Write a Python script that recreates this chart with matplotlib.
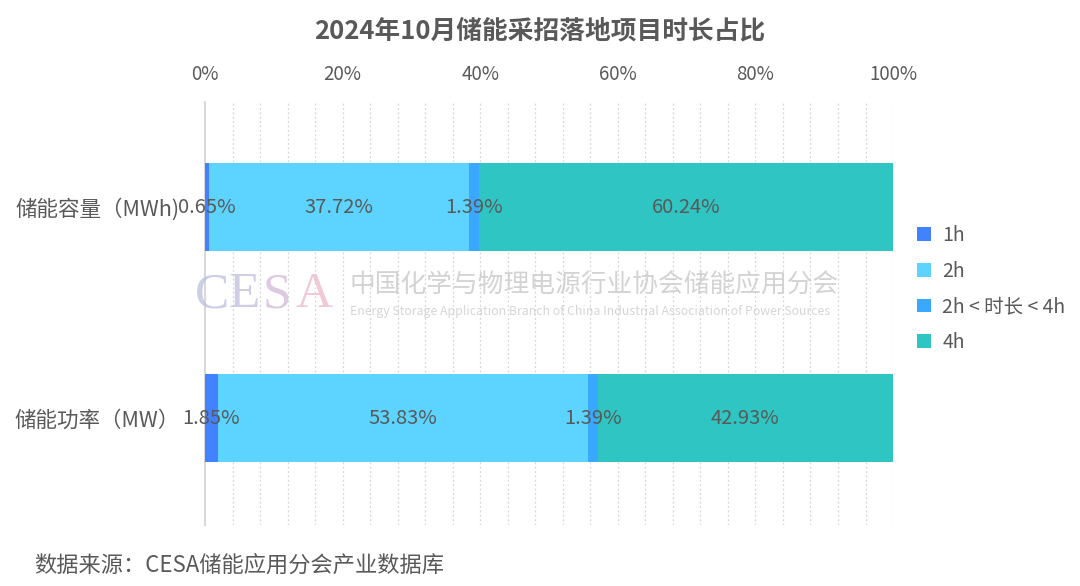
import matplotlib.pyplot as plt
from matplotlib.patches import Patch

plt.rcParams['font.family'] = ['Noto Sans CJK SC', 'DejaVu Sans']

categories = ['储能功率（MW）', '储能容量（MWh)']
series_names = ['1h', '2h', '2h < 时长 < 4h', '4h']
power = [1.85, 53.83, 1.39, 42.93]
capacity = [0.65, 37.72, 1.39, 60.24]
colors = ['#4282FF', '#5CD4FF', '#3BA8FF', '#2EC5C2']
xticks = [0, 20, 40, 60, 80, 100]

txt = '#595959'

fig = plt.figure(figsize=(10.8, 5.86), dpi=100)
ax = fig.add_axes([0.1898, 0.104, 0.8269 - 0.1898, 0.722])

values = [power, capacity]
ypos = [0, 1]
for i in range(4):
    left = [sum(v[:i]) for v in values]
    widths = [v[i] for v in values]
    bars = ax.barh(ypos, widths, left=left, height=0.42, color=colors[i], zorder=3)
    ax.bar_label(bars, labels=['%.2f%%' % w for w in widths], label_type='center',
                 fontsize=14.5, color=txt, zorder=4)

ax.set_xlim(0, 100)
ax.set_ylim(-0.507, 1.498)
ax.set_yticks(ypos)
ax.set_yticklabels(categories, fontsize=15.5, color=txt)
ax.set_xticks(xticks)
ax.set_xticklabels(['%d%%' % t for t in xticks], fontsize=13.5, color=txt)
ax.xaxis.tick_top()
ax.tick_params(axis='both', length=0)
ax.tick_params(axis='x', pad=12)
ax.tick_params(axis='y', pad=18)

for g in range(4, 101, 4):
    ax.axvline(g, color='#d6d6d6', linestyle=(0, (1.5, 2)), linewidth=0.9, zorder=1)

for s in ['top', 'right', 'bottom']:
    ax.spines[s].set_visible(False)
ax.spines['left'].set_color('#d9d9d9')
ax.spines['left'].set_linewidth(1.5)

# watermark
for ch, x, c in [('C', 0.1806, '#b9bfdc'), ('E', 0.2115, '#c0bedc'),
                 ('S', 0.2435, '#d2b9d6'), ('A', 0.2740, '#ecb8cc')]:
    fig.text(x, 0.497, ch, fontsize=37, family='Liberation Serif', color=c,
             alpha=0.75, va='center', ha='left')
fig.text(0.324, 0.512, '中国化学与物理电源行业协会储能应用分会', fontsize=18.5,
         color='#c8c8c8', alpha=0.8, va='center', ha='left')
fig.text(0.324, 0.468, 'Energy Storage Application Branch of China Industrial Association of Power Sources',
         fontsize=8.9, color='#cccccc', alpha=0.8, va='center', ha='left')

handles = [Patch(facecolor=c) for c in colors]
fig.legend(handles, series_names, loc='center left', bbox_to_anchor=(0.833, 0.507),
           frameon=False, fontsize=14, labelcolor=txt, handlelength=0.7,
           handleheight=0.7, handletextpad=0.6, labelspacing=0.75)

fig.text(0.5, 0.948, '2024年10月储能采招落地项目时长占比', fontsize=18.5,
         fontweight='bold', color=txt, ha='center', va='center')
fig.text(0.032, 0.035, '数据来源：CESA储能应用分会产业数据库', fontsize=16,
         color=txt, ha='left', va='center')

fig.savefig('out.png', dpi=100, facecolor='white')
